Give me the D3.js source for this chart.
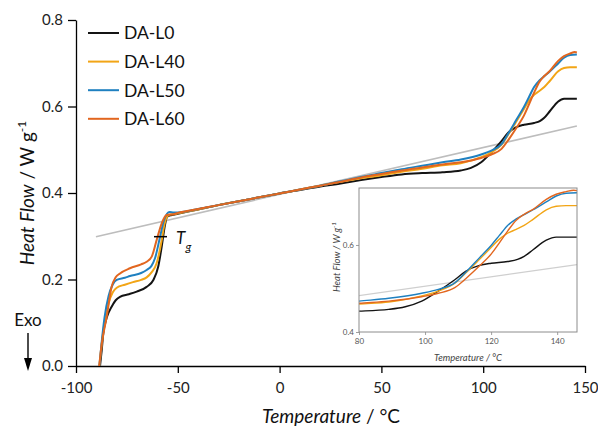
<!DOCTYPE html>
<html lang="en">
<head>
  <meta charset="UTF-8">
  <title>DSC: Heat Flow vs Temperature</title>
  <script src="https://d3js.org/d3.v7.min.js"></script>
  <style>
    body {
      margin: 0;
      background: #fff;
    }
    svg {
      display: block;
      font-family: Lato, "Open Sans", sans-serif;
    }
  </style>
</head>
<body>
  <svg id="chart" width="598" height="433"></svg>

  <script>
    // series names and colours
    const names = ["DA-L0", "DA-L40", "DA-L50", "DA-L60"];
    const colors = ["#141414", "#f2a516", "#1f80c0", "#e2661f"];

    // [temperature °C, heat flow W/g]
    const daL0 = [
      [-88.2, 0.0], [-87.4, 0.035], [-86.6, 0.075], [-84.9, 0.112], [-82.5, 0.137], [-80.5, 0.152],
      [-78.4, 0.160], [-74, 0.166], [-70.2, 0.172], [-65.3, 0.183], [-62, 0.199], [-59.6, 0.23],
      [-57.9, 0.276], [-56.3, 0.326], [-55.2, 0.345], [-53, 0.349], [-50, 0.352], [-40, 0.362],
      [-30, 0.372], [-20, 0.381], [-10, 0.390], [0, 0.399], [10, 0.407], [20, 0.415], [30, 0.422],
      [40, 0.430], [50, 0.437], [60, 0.443], [70, 0.446], [80, 0.448], [89, 0.452], [94, 0.458],
      [99, 0.471], [104, 0.494], [109, 0.52], [112.4, 0.54], [116.5, 0.553], [120, 0.558],
      [125, 0.562], [128, 0.567], [130, 0.574], [132.7, 0.589], [136.7, 0.611], [139.7, 0.618],
      [146, 0.618]
    ];
    const daL40 = [
      [-88.5, 0.0], [-87.5, 0.045], [-86, 0.1], [-84, 0.145], [-82, 0.17], [-80, 0.181],
      [-76, 0.188], [-72, 0.194], [-68, 0.199], [-65.3, 0.205], [-62.8, 0.217], [-60.4, 0.2375],
      [-57.9, 0.291], [-56.8, 0.322], [-55.5, 0.343], [-54, 0.350], [-52, 0.351], [-50, 0.353],
      [-40, 0.362], [-30, 0.372], [-20, 0.381], [-10, 0.390], [0, 0.399], [10, 0.408], [20, 0.417],
      [30, 0.426], [40, 0.434], [50, 0.441], [60, 0.449], [70, 0.456], [80, 0.464], [89, 0.469],
      [99, 0.483], [104, 0.494], [109, 0.512], [112.4, 0.536], [116.5, 0.567], [120, 0.594],
      [122.5, 0.6135], [125, 0.627], [127.6, 0.636], [130, 0.645], [132.7, 0.659], [136.7, 0.681],
      [139.7, 0.689], [142.7, 0.6905], [146, 0.6905]
    ];
    const daL50 = [
      [-88.5, 0.0], [-87.5, 0.05], [-86, 0.112], [-84, 0.162], [-82, 0.188], [-80, 0.199],
      [-76, 0.204], [-73.5, 0.208], [-68, 0.215], [-65.3, 0.222], [-63, 0.231], [-61.2, 0.249],
      [-58.7, 0.299], [-56.8, 0.337], [-55.3, 0.352], [-54, 0.356], [-52, 0.355], [-50, 0.355],
      [-40, 0.363], [-30, 0.372], [-20, 0.381], [-10, 0.390], [0, 0.399], [10, 0.408], [20, 0.417],
      [30, 0.427], [40, 0.437], [50, 0.446], [60, 0.455], [70, 0.463], [80, 0.471], [89, 0.4775],
      [99, 0.489], [104, 0.498], [109, 0.513], [112.4, 0.538], [116.5, 0.571], [120, 0.599],
      [122.5, 0.622], [125, 0.645], [127.6, 0.66], [130, 0.67], [132.7, 0.681], [136.7, 0.699],
      [139.7, 0.7126], [142.7, 0.719], [146, 0.72]
    ];
    const daL60 = [
      [-88.6, 0.0], [-87.4, 0.05], [-84.9, 0.114], [-82.5, 0.183], [-80.5, 0.205], [-78.4, 0.214],
      [-73.5, 0.226], [-68, 0.235], [-65.3, 0.241], [-62.8, 0.253], [-60.4, 0.291], [-57.9, 0.33],
      [-55.5, 0.349], [-52.2, 0.351], [-50, 0.354], [-40, 0.363], [-30, 0.372], [-20, 0.381],
      [-10, 0.390], [0, 0.399], [10, 0.408], [20, 0.417], [30, 0.426], [40, 0.436], [50, 0.444],
      [60, 0.452], [70, 0.459], [80, 0.466], [89, 0.471], [99, 0.481], [104, 0.489], [109, 0.502],
      [112.4, 0.523], [116.5, 0.552], [120, 0.579], [122.5, 0.605], [125, 0.632], [127.6, 0.657],
      [130, 0.6705], [132.7, 0.682], [136.7, 0.705], [139.7, 0.7166], [142.7, 0.7226], [145, 0.726],
      [146, 0.725]
    ];
    const allSeries = [daL0, daL40, daL50, daL60];

    // grey tangent line and the Tg marker
    const baseline = [[-90.2, 0.299], [146, 0.555]];
    const tg = [-58.5, 0.299];

    const xTicks = [-100, -50, 0, 50, 100, 150];
    const xMinor = [-75, -25, 25, 75, 125];
    const yTicks = [0, 0.2, 0.4, 0.6, 0.8];
    const yMinor = [0.1, 0.3, 0.5, 0.7];
    const insetXTicks = [80, 100, 120, 140];
    const insetXMinor = [90, 110, 130];
    const insetYTicks = [0.4, 0.6];
    const insetYMinor = [0.5, 0.7];

    const svg = d3.select("#chart");

    // main plot
    const x = d3.scaleLinear().domain([-100, 150]).range([76, 585]);
    const y = d3.scaleLinear().domain([0, 0.8]).range([366, 20]);

    const line = (sx, sy) => d3.line()
      .x(d => sx(d[0]))
      .y(d => sy(d[1]))
      .curve(d3.curveMonotoneX);

    const styleAxis = (g, size) => {
      g.attr("font-family", null).attr("font-size", size);
      g.select(".domain").attr("stroke", "#000").attr("stroke-width", 1.3);
      g.selectAll(".tick line").attr("stroke", "#000").attr("stroke-width", 1.3);
      g.selectAll(".tick text").attr("fill", "#222");
    };

    // plain hyphen for negatives, like the original
    const intLabel = d => String(d);

    const gx = svg.append("g").attr("transform", "translate(0,366)");
    gx.call(d3.axisBottom(x).tickValues(xMinor).tickSize(4).tickSizeOuter(0).tickFormat(""));
    gx.call(d3.axisBottom(x).tickValues(xTicks).tickSize(7).tickPadding(9).tickSizeOuter(0).tickFormat(intLabel));
    styleAxis(gx, 15);

    const gy = svg.append("g").attr("transform", "translate(76,0)");
    gy.call(d3.axisLeft(y).tickValues(yMinor).tickSize(4).tickSizeOuter(0).tickFormat(""));
    gy.call(d3.axisLeft(y).tickValues(yTicks).tickSize(8).tickPadding(5).tickSizeOuter(0).tickFormat(d3.format(".1f")));
    styleAxis(gy, 15);

    // baseline + curves
    svg.append("path")
      .attr("d", d3.line().x(d => x(d[0])).y(d => y(d[1]))(baseline))
      .attr("fill", "none").attr("stroke", "#bdbdbd").attr("stroke-width", 1.6);

    allSeries.forEach((s, i) => {
      svg.append("path")
        .attr("d", line(x, y)(s))
        .attr("fill", "none")
        .attr("stroke", colors[i])
        .attr("stroke-width", 2);
    });

    // Tg marker
    svg.append("line")
      .attr("x1", x(tg[0]) - 6.5).attr("x2", x(tg[0]) + 6.5)
      .attr("y1", y(tg[1])).attr("y2", y(tg[1]))
      .attr("stroke", "#000").attr("stroke-width", 1.5);
    svg.append("text")
      .attr("x", 176).attr("y", 243.5)
      .attr("font-size", 17).attr("font-style", "italic").attr("fill", "#111")
      .text("T");
    svg.append("text")
      .attr("x", 185.5).attr("y", 250.5)
      .attr("font-size", 12).attr("font-style", "italic").attr("fill", "#111")
      .text("g");

    // legend
    names.forEach((n, i) => {
      const ly = 33 + i * 28.6;
      svg.append("line")
        .attr("x1", 88).attr("x2", 119).attr("y1", ly).attr("y2", ly)
        .attr("stroke", colors[i]).attr("stroke-width", 2);
      svg.append("text")
        .attr("x", 124).attr("y", ly).attr("dy", "0.36em")
        .attr("font-size", 17.5).attr("fill", "#111")
        .text(n);
    });

    // axis titles
    const xt = svg.append("text")
      .attr("x", 331).attr("y", 423)
      .attr("text-anchor", "middle").attr("font-size", 19).attr("fill", "#111");
    xt.append("tspan").attr("font-style", "italic").text("Temperature");
    xt.append("tspan").text(" / °C");

    const yt = svg.append("text")
      .attr("transform", "translate(34,193) rotate(-90)")
      .attr("text-anchor", "middle").attr("font-size", 19).attr("fill", "#111");
    yt.append("tspan").attr("font-style", "italic").text("Heat Flow");
    yt.append("tspan").text(" / W g");
    yt.append("tspan").attr("font-size", 12).attr("dy", -8).text("-1");

    // Exo arrow
    svg.append("text")
      .attr("x", 28).attr("y", 326)
      .attr("text-anchor", "middle").attr("font-size", 17).attr("fill", "#111")
      .text("Exo");
    svg.append("line")
      .attr("x1", 28).attr("x2", 28).attr("y1", 333).attr("y2", 360)
      .attr("stroke", "#000").attr("stroke-width", 1.4);
    svg.append("path")
      .attr("d", "M24,358 L32,358 L28,371 Z")
      .attr("fill", "#000");

    // inset
    const ix = d3.scaleLinear().domain([80, 146]).range([359, 577]);
    const iy = d3.scaleLinear().domain([0.4, 0.731]).range([332, 188]);

    const inset = svg.append("g");
    inset.append("rect")
      .attr("x", 359).attr("y", 188).attr("width", 218).attr("height", 144)
      .attr("fill", "#fff");

    svg.append("clipPath").attr("id", "insetClip")
      .append("rect").attr("x", 359).attr("y", 188).attr("width", 218).attr("height", 144);

    const plotArea = inset.append("g").attr("clip-path", "url(#insetClip)");
    plotArea.append("path")
      .attr("d", d3.line().x(d => ix(d[0])).y(d => iy(d[1]))(baseline))
      .attr("fill", "none").attr("stroke", "#cfcfcf").attr("stroke-width", 1.2);
    allSeries.forEach((s, i) => {
      plotArea.append("path")
        .attr("d", line(ix, iy)(s.filter(d => d[0] >= 70)))
        .attr("fill", "none")
        .attr("stroke", colors[i])
        .attr("stroke-width", 1.4);
    });

    const styleInset = g => {
      g.attr("font-family", null).attr("font-size", 8);
      g.select(".domain").remove();
      g.selectAll(".tick line").attr("stroke", "#888").attr("stroke-width", 0.8);
      g.selectAll(".tick text").attr("fill", "#555");
    };

    const igx = inset.append("g").attr("transform", "translate(0,332)");
    igx.call(d3.axisBottom(ix).tickValues(insetXMinor).tickSize(2).tickFormat(""));
    igx.call(d3.axisBottom(ix).tickValues(insetXTicks).tickSize(3).tickPadding(3).tickFormat(intLabel));
    styleInset(igx);

    const igy = inset.append("g").attr("transform", "translate(359,0)");
    igy.call(d3.axisLeft(iy).tickValues(insetYMinor).tickSize(2).tickFormat(""));
    igy.call(d3.axisLeft(iy).tickValues(insetYTicks).tickSize(3).tickPadding(2).tickFormat(d3.format(".1f")));
    styleInset(igy);

    inset.append("rect")
      .attr("x", 359).attr("y", 188).attr("width", 218).attr("height", 144)
      .attr("fill", "none").attr("stroke", "#8c8c8c").attr("stroke-width", 1);

    inset.append("text")
      .attr("x", 468).attr("y", 361)
      .attr("text-anchor", "middle").attr("font-size", 9.5).attr("font-style", "italic").attr("fill", "#444")
      .text("Temperature / °C");

    const iyt = inset.append("text")
      .attr("transform", "translate(340,257) rotate(-90)")
      .attr("text-anchor", "middle").attr("font-size", 9.5).attr("font-style", "italic").attr("fill", "#444");
    iyt.append("tspan").text("Heat Flow / W g");
    iyt.append("tspan").attr("font-size", 6.5).attr("dy", -4).text("-1");
  </script>
</body>
</html>
